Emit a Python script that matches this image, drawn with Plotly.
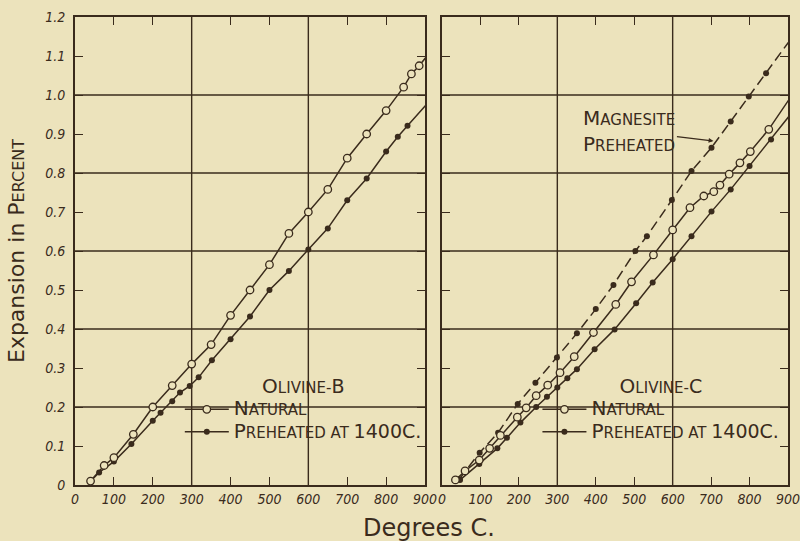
import plotly.graph_objects as go
from plotly.subplots import make_subplots

# ---------------- data ----------------
olivB_nat_T = [40, 75, 100, 150, 200, 250, 300, 350, 400, 450, 500, 550, 600, 650, 700, 750, 800, 845, 865, 885, 905]
olivB_nat_E = [0.01, 0.05, 0.07, 0.13, 0.20, 0.255, 0.31, 0.36, 0.435, 0.50, 0.565, 0.645, 0.70, 0.758, 0.838, 0.90, 0.96, 1.02, 1.054, 1.075, 1.10]

olivB_pre_T = [40, 62, 100, 145, 200, 220, 250, 270, 295, 318, 352, 400, 450, 500, 550, 600, 650, 700, 750, 800, 830, 855, 902]
olivB_pre_E = [0.01, 0.032, 0.06, 0.105, 0.165, 0.185, 0.215, 0.237, 0.254, 0.276, 0.32, 0.374, 0.432, 0.50, 0.549, 0.604, 0.658, 0.73, 0.786, 0.855, 0.893, 0.921, 0.974]

olivC_nat_T = [35, 60, 97, 124, 152, 196, 219, 245, 275, 307, 344, 394, 452, 493, 550, 600, 645, 681, 707, 723, 747, 775, 802, 850, 903]
olivC_nat_E = [0.013, 0.036, 0.064, 0.094, 0.127, 0.174, 0.198, 0.229, 0.256, 0.288, 0.329, 0.391, 0.463, 0.521, 0.59, 0.654, 0.711, 0.741, 0.752, 0.769, 0.797, 0.826, 0.855, 0.912, 0.989]

olivC_pre_T = [47, 97, 144, 169, 204, 245, 273, 300, 326, 351, 397, 449, 505, 548, 600, 649, 701, 751, 800, 856, 903]
olivC_pre_E = [0.013, 0.054, 0.094, 0.121, 0.16, 0.20, 0.226, 0.25, 0.274, 0.297, 0.348, 0.399, 0.466, 0.519, 0.579, 0.638, 0.701, 0.758, 0.818, 0.886, 0.946]

magn_T = [45, 98, 146, 197, 243, 299, 351, 400, 446, 503, 533, 598, 649, 701, 751, 798, 843, 901]
magn_E = [0.015, 0.083, 0.134, 0.208, 0.262, 0.327, 0.389, 0.451, 0.513, 0.60, 0.638, 0.731, 0.805, 0.865, 0.932, 0.996, 1.056, 1.135]

x_ticks = [0, 100, 200, 300, 400, 500, 600, 700, 800, 900]
y_ticks = [0, 0.1, 0.2, 0.3, 0.4, 0.5, 0.6, 0.7, 0.8, 0.9, 1.0, 1.1, 1.2]
y_tick_text = ["0", "0.1", "0.2", "0.3", "0.4", "0.5", "0.6", "0.7", "0.8", "0.9", "1.0", "1.1", "1.2"]
grid_x = [300, 600]
grid_y = [0.2, 0.4, 0.6, 0.8, 1.0]

# ---------------- style ----------------
BG = "#ECE3BC"
INK = "#3A2B1C"
TXT_FONT = "DejaVu Sans, Noto Sans, sans-serif"
TICK_FONT = "Liberation Sans Narrow, DejaVu Sans Condensed, Arial Narrow, sans-serif"
BIG = 20
SMALL = 15


def sc_leg(first, rest, tail=""):
    # legend base font is SMALL; first capital enlarged
    return f"<span style='font-size:{BIG}px'>{first}</span>{rest}<span style='font-size:{BIG - 1}px'>{tail}</span>"


def sc_ann(first, rest, tail=""):
    # annotation base font is BIG; remaining letters reduced
    return f"{first}<span style='font-size:{SMALL}px'>{rest}</span>{tail}"


fig = make_subplots(rows=1, cols=2, horizontal_spacing=0.024, shared_yaxes=False)

open_marker = dict(symbol="circle", size=7.5, color=BG, line=dict(color=INK, width=1.3))
fill_marker = dict(symbol="circle", size=6, color=INK, line=dict(color=INK, width=0))
line_style = dict(color=INK, width=1.5)

# Left panel: Olivine-B
fig.add_trace(go.Scatter(x=olivB_pre_T, y=olivB_pre_E, mode="lines+markers",
                         name=sc_leg("P", "REHEATED AT ", "1400C."), line=line_style,
                         marker=fill_marker, legend="legend", legendrank=2,
                         cliponaxis=False), row=1, col=1)
fig.add_trace(go.Scatter(x=olivB_nat_T, y=olivB_nat_E, mode="lines+markers",
                         name=sc_leg("N", "ATURAL"), line=line_style,
                         marker=open_marker, legend="legend", legendrank=1,
                         cliponaxis=False), row=1, col=1)

# Right panel: Olivine-C + Magnesite
fig.add_trace(go.Scatter(x=magn_T, y=magn_E, mode="lines+markers",
                         name="Magnesite preheated", showlegend=False,
                         line=dict(color=INK, width=1.5, dash="10px,5px"),
                         marker=fill_marker, cliponaxis=False), row=1, col=2)
fig.add_trace(go.Scatter(x=olivC_pre_T, y=olivC_pre_E, mode="lines+markers",
                         name=sc_leg("P", "REHEATED AT ", "1400C."), line=line_style,
                         marker=fill_marker, legend="legend2", legendrank=2,
                         cliponaxis=False), row=1, col=2)
fig.add_trace(go.Scatter(x=olivC_nat_T, y=olivC_nat_E, mode="lines+markers",
                         name=sc_leg("N", "ATURAL"), line=line_style,
                         marker=open_marker, legend="legend2", legendrank=1,
                         cliponaxis=False), row=1, col=2)

# grid lines
for xr, yr in [("x", "y"), ("x2", "y2")]:
    for gx in grid_x:
        fig.add_shape(type="line", xref=xr, yref=yr, x0=gx, x1=gx, y0=0, y1=1.2,
                      line=dict(color=INK, width=1.4), layer="below")
    for gy in grid_y:
        fig.add_shape(type="line", xref=xr, yref=yr, x0=0, x1=900, y0=gy, y1=gy,
                      line=dict(color=INK, width=1.4), layer="below")

axis_common = dict(ticks="inside", ticklen=8, tickwidth=1.4, tickcolor=INK,
                   showline=True, linecolor=INK, linewidth=2, mirror="ticks",
                   showgrid=False, zeroline=False, automargin=False,
                   ticklabeloverflow="allow",
                   tickfont=dict(family=TICK_FONT, size=14, color=INK, style="italic"))

fig.update_xaxes(range=[0, 900], tickvals=x_ticks, **axis_common)
fig.update_yaxes(range=[0, 1.2], tickvals=y_ticks, **axis_common)
fig.update_xaxes(domain=[0.0, 0.4909], row=1, col=1)
fig.update_xaxes(domain=[0.5147, 1.0], row=1, col=2)
fig.update_yaxes(ticktext=y_tick_text, ticklabelstandoff=5, row=1, col=1,
                 title=dict(text="Expansion in P<span style='font-size:16px'>ERCENT</span>",
                            font=dict(family=TXT_FONT, size=22, color=INK), standoff=14))
fig.update_yaxes(showticklabels=False, row=1, col=2)

legend_common = dict(bgcolor="rgba(0,0,0,0)", borderwidth=0,
                     font=dict(family=TXT_FONT, size=SMALL, color=INK),
                     yanchor="top", xref="paper", yref="paper",
                     tracegroupgap=0, itemsizing="trace", traceorder="normal",
                     itemwidth=44)

fig.update_layout(
    width=800, height=541,
    paper_bgcolor=BG, plot_bgcolor=BG,
    margin=dict(l=75, r=12, t=17, b=56, autoexpand=False),
    legend=dict(x=0.147, y=0.238, xanchor="left",
                title=dict(text=sc_leg("O", "LIVINE-", "B"), side="top center",
                           font=dict(family=TXT_FONT, size=SMALL, color=INK)),
                **legend_common),
    legend2=dict(x=0.995, y=0.238, xanchor="right",
                 title=dict(text=sc_leg("O", "LIVINE-", "C"), side="top center",
                            font=dict(family=TXT_FONT, size=SMALL, color=INK)),
                 **legend_common),
    annotations=[
        dict(text="Degrees C.", xref="paper", yref="paper", x=0.497, y=-0.092,
             xanchor="center", yanchor="middle", showarrow=False,
             font=dict(family=TXT_FONT, size=24, color=INK)),
        dict(text=sc_ann("M", "AGNESITE") + "<br>" + sc_ann("P", "REHEATED"), xref="x2", yref="y2",
             x=706, y=0.882, ax=-84, ay=-10, showarrow=True, arrowhead=2, arrowsize=0.8,
             arrowwidth=1.2, arrowcolor=INK, align="left",
             font=dict(family=TXT_FONT, size=BIG, color=INK)),
    ],
    showlegend=True,
)

post = ("document.documentElement.style.margin='0';document.body.style.margin='0';"
        "document.body.style.overflow='hidden';document.body.style.background='" + BG + "';")
fig.write_html("out.html", post_script=post, config={"displayModeBar": False})
